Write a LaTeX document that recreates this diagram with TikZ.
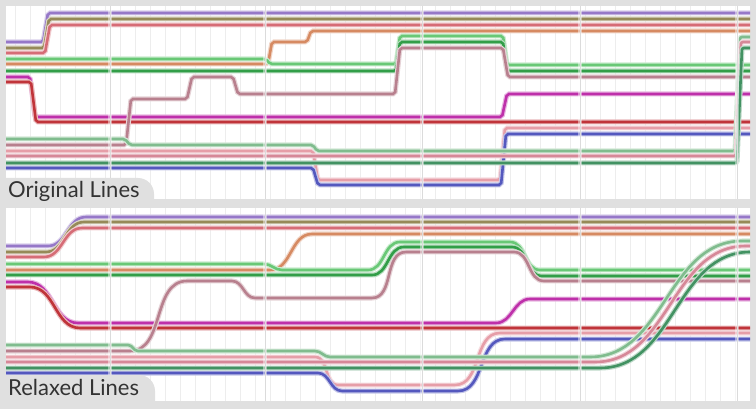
\documentclass[tikz,border=0pt]{standalone}
\usepackage{fontspec}
\newfontfamily\tabfont{Lato}
\usepackage{xcolor}
\definecolor{framegray}{RGB}{224,224,224}
\definecolor{cPurple}{RGB}{150,120,200}
\definecolor{cOlive}{RGB}{150,138,88}
\definecolor{cSalmon}{RGB}{214,108,118}
\definecolor{cOrange}{RGB}{214,138,98}
\definecolor{cLgreen}{RGB}{105,200,118}
\definecolor{cDgreen}{RGB}{50,158,72}
\definecolor{cMagenta}{RGB}{190,48,170}
\definecolor{cRed}{RGB}{192,52,58}
\definecolor{cMauve}{RGB}{184,128,142}
\definecolor{cSage}{RGB}{128,188,142}
\definecolor{cPinkA}{RGB}{230,158,168}
\definecolor{cPinkB}{RGB}{214,136,152}
\definecolor{cTeal}{RGB}{66,146,98}
\definecolor{cBlue}{RGB}{84,88,190}
\usetikzlibrary{positioning}

\begin{document}
\begin{tikzpicture}[x=1pt, y=-1pt,
    story/.style={line width=2.6pt, draw=#1,
                  preaction={draw=#1!35, line width=5pt}},
    gridline/.style={gray!14, line width=0.6pt},
    colline/.style={gray!28, line width=0.7pt},
    tablabel/.style={font=\tabfont\fontsize{22}{24}\selectfont,
                     text=black!80, inner sep=0pt, anchor=base west},
  ]
    % frame and panels
    \fill[framegray] (0,0) rectangle (756,409);
    \fill[white] (6,6) rectangle (750,199);
    \fill[white] (6,208) rectangle (750,401);
    \foreach \x in {15,30,...,745} {
      \draw[gridline] (\x,6) -- (\x,199);
      \draw[gridline] (\x,208) -- (\x,401);
    }

    % original lines
    \begin{scope}[rounded corners=2pt]
      \draw[story=cPurple] (6,42) -- (43,42) -- (48,13) -- (750,13);
      \draw[story=cOlive] (6,48) -- (44,48) -- (49,19) -- (750,19);
      \draw[story=cSalmon] (6,53) -- (45,53) -- (50,25) -- (750,25);
      \draw[story=cOrange] (6,64) -- (268,64) -- (272,42) -- (307,42) -- (311,31) -- (750,31);
      \draw[story=cLgreen] (6,59) -- (266,59) -- (270,64) -- (396,64) -- (400,36)
        -- (503,36) -- (507,65) -- (750,65);
      \draw[story=cDgreen] (6,71) -- (396,71) -- (400,42) -- (503,42) -- (507,71) -- (750,71);
      \draw[story=cMagenta] (6,77) -- (30,77) -- (35,117) -- (502,117) -- (507,94) -- (750,94);
      \draw[story=cRed] (6,82) -- (31,82) -- (36,122) -- (750,122);
      \draw[story=cMauve] (6,145) -- (126,145) -- (131,99) -- (187,99) -- (192,77)
        -- (233,77) -- (238,94) -- (395,94) -- (400,48) -- (503,48) -- (508,77) -- (750,77);
      \draw[story=cPinkA] (6,151) -- (313,151) -- (318,180) -- (500,180) -- (505,128) -- (750,128);
      \draw[story=cBlue] (6,168) -- (313,168) -- (318,185) -- (501,185) -- (506,134) -- (750,134);
      \draw[story=cSage] (6,139) -- (125,139) -- (130,145) -- (313,145) -- (317,151)
        -- (735,151) -- (740,37) -- (750,37);
      \draw[story=cPinkB] (6,156) -- (736,156) -- (741,42) -- (750,42);
      \draw[story=cTeal] (6,163) -- (737,163) -- (742,48) -- (750,48);
    \end{scope}

    % relaxed lines
    \draw[story=cPurple] (6,246) -- (48,246) to[out=0,in=180] (86,217) -- (750,217);
    \draw[story=cOlive] (6,252) -- (46,252) to[out=0,in=180] (84,222) -- (750,222);
    \draw[story=cSalmon] (6,257) -- (44,257) to[out=0,in=180] (82,228) -- (750,228);
    \draw[story=cOrange] (6,270) -- (270,270) to[out=0,in=180] (312,234) -- (750,234);
    \draw[story=cLgreen] (6,264) -- (264,264) to[out=0,in=180] (282,270) -- (368,270)
      to[out=0,in=180] (400,242) -- (510,242) to[out=0,in=180] (540,270) -- (750,270);
    \draw[story=cDgreen] (6,275) -- (372,275) to[out=0,in=180] (404,247) -- (512,247)
      to[out=0,in=180] (542,276) -- (750,276);
    \draw[story=cMagenta] (6,282) -- (28,282) to[out=0,in=180] (78,323) -- (496,323)
      to[out=0,in=180] (530,299) -- (750,299);
    \draw[story=cRed] (6,287) -- (30,287) to[out=0,in=180] (80,328) -- (750,328);
    \draw[story=cMauve] (6,351) -- (130,351) to[out=0,in=180] (187,281) -- (232,281)
      to[out=0,in=180] (255,298) -- (372,298) to[out=0,in=180] (406,252) -- (514,252)
      to[out=0,in=180] (544,281) -- (750,281);
    \draw[story=cPinkA] (6,357) -- (315,357) to[out=0,in=180] (338,385) -- (455,385)
      to[out=0,in=180] (500,333) -- (750,333);
    \draw[story=cBlue] (6,373) -- (318,373) to[out=0,in=180] (342,391) -- (458,391)
      to[out=0,in=180] (505,339) -- (750,339);
    \draw[story=cSage] (6,345) -- (128,345) to[out=0,in=180] (138,351) -- (315,351)
      to[out=0,in=180] (330,357) -- (590,357) to[out=0,in=180] (742,241) -- (750,241);
    \draw[story=cPinkB] (6,362) -- (595,362) to[out=0,in=180] (746,246) -- (750,246);
    \draw[story=cTeal] (6,368) -- (600,368) to[out=0,in=180] (750,252);

    % column markers
    \foreach \x in {110,265,422,580,737} {
      \fill[white, opacity=0.45] (\x-2,6) rectangle (\x+2,199);
      \fill[white, opacity=0.45] (\x-2,208) rectangle (\x+2,401);
      \draw[colline] (\x,6) -- (\x,199);
      \draw[colline] (\x,208) -- (\x,401);
    }

    % panel tabs
    \fill[framegray] (0,205) |- (138,178) arc[start angle=-90, end angle=0, radius=16] |- (0,205);
    \fill[framegray] (0,409) |- (139,375) arc[start angle=-90, end angle=0, radius=16] |- (0,409);
    \node[tablabel] (origlabel) at (8,198) {Original Lines};
    \node[tablabel] (relaxlabel) at (8,395) {Relaxed Lines};
\end{tikzpicture}
\end{document}
